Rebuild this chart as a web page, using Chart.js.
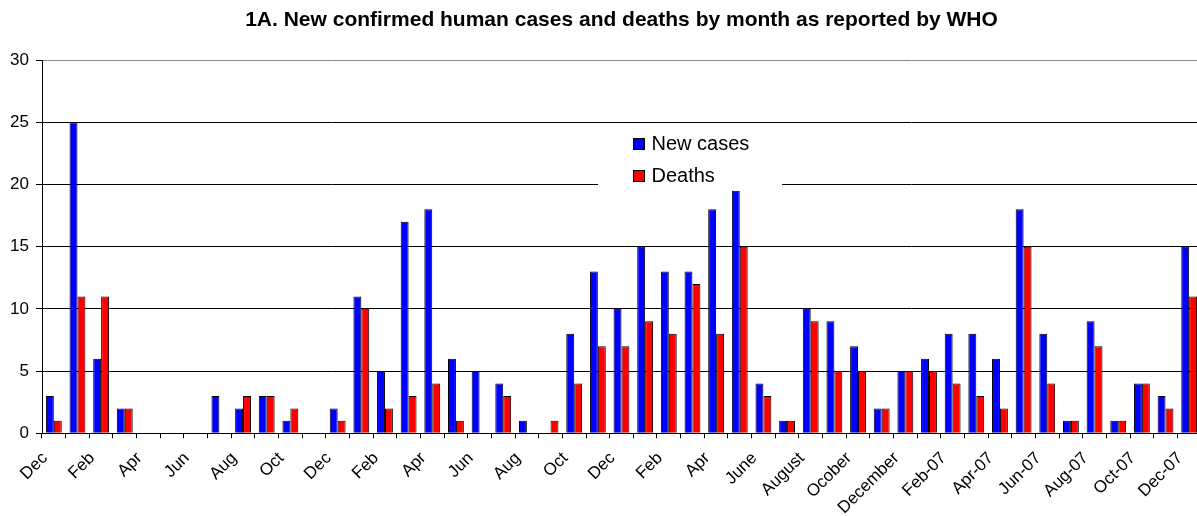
<!DOCTYPE html>
<html>
<head>
<meta charset="utf-8">
<title>New confirmed human cases and deaths by month</title>
<script src="https://cdn.jsdelivr.net/npm/chart.js@4.4.1/dist/chart.umd.min.js"></script>
<style>
  html, body { margin: 0; padding: 0; background: #fff; overflow: hidden; }
  #wrap { width: 1201px; height: 516px; }
</style>
</head>
<body>
<div id="wrap"><canvas id="barChart"></canvas></div>
<script>
// months from Dec 2003 to Dec 2007, only every other one is shown on the axis
var months = [
  'Dec', 'Jan', 'Feb', 'Mar', 'Apr', 'May', 'Jun', 'Jul', 'Aug', 'Sep', 'Oct', 'Nov',
  'Dec', 'Jan', 'Feb', 'Mar', 'Apr', 'May', 'Jun', 'Jul', 'Aug', 'Sep', 'Oct', 'Nov',
  'Dec', 'Jan', 'Feb', 'Mar', 'Apr', 'May', 'June', 'July', 'August', 'September', 'Ocober', 'November',
  'December', 'Jan-07', 'Feb-07', 'Mar-07', 'Apr-07', 'May-07', 'Jun-07', 'Jul-07', 'Aug-07', 'Sep-07', 'Oct-07', 'Nov-07',
  'Dec-07'
];

var newCases = [
  3, 25, 6, 2, 0, 0, 0, 3, 2, 3, 1, 0,
  2, 11, 5, 17, 18, 6, 5, 4, 1, 0, 8, 13,
  10, 15, 13, 13, 18, 19.5, 4, 1, 10, 9, 7, 2,
  5, 6, 8, 8, 6, 18, 8, 1, 9, 1, 4, 3,
  15
];

var deaths = [
  1, 11, 11, 2, 0, 0, 0, 0, 3, 3, 2, 0,
  1, 10, 2, 3, 4, 1, 0, 3, 0, 1, 4, 7,
  7, 9, 8, 12, 8, 15, 3, 1, 9, 5, 5, 2,
  5, 5, 4, 3, 2, 15, 4, 1, 7, 1, 4, 2,
  11
];

var yTicks = [0, 5, 10, 15, 20, 25, 30];

var FONT = "'Liberation Sans', Arial, sans-serif";

// legend drawn inside the plot, on a white box that hides the grid line
var insideLegend = {
  id: 'insideLegend',
  beforeDatasetsDraw: function (chart, args, opts) {
    var ctx = chart.ctx;
    ctx.save();
    ctx.fillStyle = '#fff';
    ctx.fillRect(opts.x, opts.y, opts.w, opts.h);
    ctx.font = opts.fontSize + 'px ' + FONT;
    ctx.textBaseline = 'alphabetic';
    ctx.textAlign = 'left';
    chart.data.datasets.forEach(function (ds, i) {
      var top = opts.markTop + i * opts.step;
      ctx.fillStyle = ds.backgroundColor;
      ctx.fillRect(opts.markX, top, opts.markSize, opts.markSize);
      ctx.lineWidth = 1;
      ctx.strokeStyle = '#000';
      ctx.strokeRect(opts.markX + 0.5, top + 0.5, opts.markSize - 1, opts.markSize - 1);
      ctx.fillStyle = '#000';
      ctx.fillText(ds.label, opts.textX, opts.baseline + i * opts.step);
    });
    ctx.restore();
  }
};

var ctx = document.getElementById('barChart').getContext('2d');

var barChart = new Chart(ctx, {
  type: 'bar',
  data: {
    labels: months,
    datasets: [
      {
        label: 'New cases',
        data: newCases,
        backgroundColor: '#0000ff',
        borderColor: '#000',
        borderWidth: 1
      },
      {
        label: 'Deaths',
        data: deaths,
        backgroundColor: '#ff0000',
        borderColor: '#000',
        borderWidth: 1
      }
    ]
  },
  options: {
    responsive: true,
    maintainAspectRatio: false,
    animation: false,
    layout: { padding: 0 },
    datasets: {
      bar: { categoryPercentage: 0.67, barPercentage: 1.0 }
    },
    plugins: {
      legend: { display: false },
      tooltip: { enabled: false },
      title: {
        display: true,
        fullSize: false,
        text: '1A. New confirmed human cases and deaths by month as reported by WHO',
        color: '#000',
        font: { family: FONT, size: 21, weight: 'bold', lineHeight: 1.2 },
        padding: { top: 8, bottom: 26.8 }
      },
      insideLegend: {
        x: 598, y: 127, w: 184, h: 62,
        markX: 633, markTop: 138, markSize: 12, step: 32,
        textX: 651.5, baseline: 149.5, fontSize: 20
      }
    },
    scales: {
      x: {
        afterFit: function (scale) {
          scale.height = 82.7;
          // the plot runs off the right edge in the original
          scale.paddingLeft = 0;
          scale.paddingRight = 0;
        },
        grid: {
          display: true,
          drawOnChartArea: false,
          drawTicks: true,
          tickLength: 5,
          tickColor: '#000',
          offset: true
        },
        border: { display: true, color: '#000', width: 1 },
        ticks: {
          autoSkip: false,
          minRotation: 45,
          maxRotation: 45,
          padding: 10,
          labelOffset: -9,
          color: '#000',
          font: { family: FONT, size: 17 },
          callback: function (value, index) {
            return index % 2 === 0 ? months[index] : '';
          }
        }
      },
      y: {
        min: 0,
        max: 30,
        afterFit: function (scale) { scale.width = 42; },
        afterBuildTicks: function (scale) {
          scale.ticks = yTicks.map(function (v) { return { value: v }; });
        },
        grid: {
          color: function (c) { return c.tick && c.tick.value === 30 ? '#888' : '#000'; },
          lineWidth: 1,
          drawTicks: true,
          tickLength: 6,
          tickColor: '#000'
        },
        border: { display: true, color: '#000', width: 1 },
        ticks: {
          padding: 7,
          color: '#000',
          font: { family: FONT, size: 17 }
        }
      }
    }
  },
  plugins: [insideLegend]
});
</script>
</body>
</html>
